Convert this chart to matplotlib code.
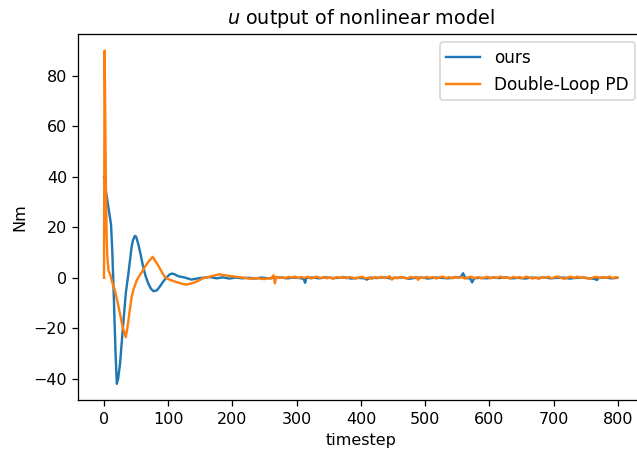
import matplotlib
matplotlib.use('Agg')
import matplotlib.pyplot as plt

# ours (blue): timestep / value
ours_t = [0, 2, 5, 8, 11, 13, 15, 18, 20, 22, 25, 30, 34, 38, 43, 45, 48, 50, 53, 56, 61, 65, 69, 73, 77,
          82, 86, 90, 93, 98, 102, 106, 110, 116, 126, 136, 147,
          156, 165, 175, 185, 195, 205, 215, 225, 235, 245, 255, 265, 275, 285, 295, 305, 311, 313,
          315, 325, 335, 345, 355, 365, 375, 385, 395, 405, 409, 415, 425, 435, 445, 455, 465, 475,
          485, 495, 505, 515, 525, 535, 545, 555, 559, 562, 570, 573, 576, 585, 595, 605, 615, 625,
          635, 645, 655, 665, 675, 685, 695, 705, 715, 725, 735, 745, 755, 765, 767, 770, 780, 790, 799]
ours_u = [40, 36, 31, 26, 21, 10, -5, -30, -42, -40, -34, -18, -6, 1.7, 12.3, 14.8, 16.6, 16.3, 13.7, 10.5, 4.3, 0.5, -2.3, -4.3, -5.3,
          -5, -3.8, -2.3, -1.2, 0.3, 1.3, 1.7, 1.4, 0.6, 0.1, -0.7, -0.2,
          0.1, 0.3, -0.2, 0.2, -0.3, 0.1, -0.2, 0.0, -0.3, 0.1, -0.2, 0.0, 0.2, -0.2, 0.1, -0.1, -0.5, -2.0,
          0.0, 0.1, -0.2, 0.2, -0.1, 0.0, 0.2, -0.3, 0.0, -0.2, -0.7, 0.1, -0.1, 0.2, -0.2, 0.0, 0.2, -0.4,
          0.0, 0.1, -0.3, 0.1, 0.0, -0.2, 0.1, 0.3, 1.8, 0.0, -0.3, -1.8, -0.2, 0.0, -0.2, 0.1, -0.1, 0.2,
          -0.2, 0.0, -0.3, 0.1, -0.1, 0.2, -0.2, 0.0, 0.1, -0.3, 0.0, 0.1, -0.2, -0.5, -0.9, 0.0, 0.1, -0.2, 0.0]

# Double-Loop PD (orange)
pd_t = [0, 1, 2, 3, 4, 5, 7, 10, 13, 17, 21, 25, 29, 34, 36, 38, 40, 43, 46, 51, 55, 59, 64, 69, 72, 76,
        79, 83, 87, 91, 95, 100, 105, 113, 121, 128, 135, 142, 148, 154,
        160, 165, 170, 175, 180, 185, 190, 195, 200, 205, 210, 215, 220, 225, 230, 235, 240, 245,
        250, 255, 260, 264, 266, 268, 272, 277, 282, 287, 292, 297, 302, 307, 312, 317, 322, 327,
        332, 337, 342, 347, 352, 357, 362, 367, 372, 377, 382, 387, 392, 397, 402, 407, 412, 417,
        422, 427, 432, 437, 442, 445, 448, 452, 457, 462, 467, 472, 477, 482, 486, 489, 492, 497,
        502, 507, 512, 517, 522, 527, 532, 537, 542, 547, 552, 557, 562, 567, 572, 577, 582, 587,
        592, 597, 602, 607, 612, 617, 622, 627, 632, 637, 642, 647, 652, 657, 662, 667, 672, 677,
        682, 687, 692, 697, 702, 707, 712, 717, 722, 727, 732, 737, 742, 747, 752, 757, 762, 767,
        772, 777, 782, 787, 792, 796, 799]
pd_u = [0, 90, 62, 35, 18, 9, 3, 1, -2, -5, -9.5, -14.3, -19.5, -23.5, -20.5, -17, -13, -7.7, -4.5, -1, 0.8, 2.3, 4.5, 6.3, 7.2, 8.3,
        7, 5.5, 3.7, 1.8, 0.3, -0.5, -1, -1.7, -2.3, -2.7, -2.3, -1.7, -1.0, -0.2,
        0.2, 0.5, 0.8, 1.1, 1.4, 1.1, 1.0, 0.7, 0.6, 0.4, 0.3, 0.1, 0.0, -0.3, -0.4, -0.1, -0.2, -0.4,
        -0.5, -0.2, -0.3, 1.0, -2.2, 0.4, -0.1, 0.3, -0.2, 0.4, 0.1, 0.5, -0.1, 0.3, 0.0, 0.4, -0.3, 0.2,
        0.4, -0.1, 0.3, -0.2, 0.2, -0.4, 0.3, 0.0, 0.4, -0.2, 0.3, 0.1, -0.3, 0.2, 0.4, -0.2, 0.1, -0.4,
        0.3, 0.0, 0.4, -0.1, 0.3, 0.6, -0.7, 0.2, -0.2, 0.4, 0.0, -0.3, 0.3, 0.1, 0.4, -0.8, 0.2, -0.1,
        0.4, 0.0, 0.3, -0.3, 0.2, 0.5, -0.1, 0.3, -0.2, 0.4, 0.0, 0.3, -0.3, 0.2, 0.4, -0.1, 0.3, -0.2,
        0.1, 0.4, -0.2, 0.3, 0.0, 0.5, -0.1, 0.2, -0.3, 0.4, 0.0, 0.3, -0.2, 0.5, 0.1, -0.3, 0.2, -0.4,
        0.3, 0.0, 0.4, -0.2, 0.3, 0.5, -0.1, -0.4, 0.2, 0.4, 0.0, 0.5, -0.1, 0.3, -0.2, -0.4, 0.2, 0.4,
        -0.1, 0.3, 0.0, 0.5, -0.2, 0.3, 0.1]

fig = plt.figure(figsize=(637 / 115, 455 / 115), dpi=115)
ax = fig.add_axes([0.1229, 0.1198, 0.8876, 0.8055])  # right edge is cut off like in the original

ax.plot(ours_t, ours_u, label='ours')
ax.plot(pd_t, pd_u, label='Double-Loop PD')

ax.set_xlim(-40, 840)
ax.set_ylim(-48.6, 96.6)
ax.spines['right'].set_visible(False)
ax.set_title('$u$ output of nonlinear model')
ax.set_xlabel('timestep')
ax.set_ylabel('Nm')
ax.legend(loc='upper right', fontsize=10.6)

fig.savefig('out.png', dpi=115)
